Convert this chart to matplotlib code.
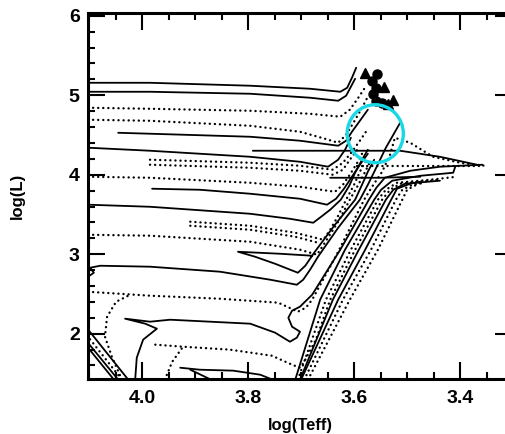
import matplotlib
matplotlib.use("Agg")
import matplotlib.pyplot as plt
from matplotlib.patches import Ellipse
from matplotlib.ticker import MultipleLocator

# ---------------------------------------------------------------------------
# evolutionary tracks (log Teff, log L)
# ---------------------------------------------------------------------------

s1_teff = [4.102, 3.985, 3.796, 3.683, 3.626, 3.613, 3.604, 3.596]
s1_logl = [5.157, 5.157, 5.120, 5.082, 5.044, 5.094, 5.220, 5.346]

s2_teff = [4.102, 3.985, 3.796, 3.683, 3.630, 3.615, 3.606, 3.598]
s2_logl = [5.044, 5.044, 5.019, 4.969, 4.931, 4.994, 5.107, 5.208]

d1_teff = [4.102, 3.985, 3.796, 3.683, 3.626, 3.608, 3.592, 3.577]
d1_logl = [4.843, 4.830, 4.805, 4.767, 4.730, 4.818, 4.969, 5.120]

d2_teff = [4.102, 3.985, 3.796, 3.702, 3.655, 3.630, 3.615, 3.600, 3.585, 3.575]
d2_logl = [4.692, 4.679, 4.616, 4.541, 4.453, 4.402, 4.503, 4.667, 4.843, 4.969]

s3_teff = [4.045, 3.985, 3.796, 3.702, 3.630, 3.615, 3.604, 3.589, 3.574]
s3_logl = [4.528, 4.516, 4.478, 4.428, 4.365, 4.428, 4.541, 4.679, 4.818]

s4_teff = [4.102, 3.985, 3.796, 3.702, 3.649, 3.630, 3.617, 3.606]
s4_logl = [4.340, 4.302, 4.226, 4.163, 4.101, 4.189, 4.314, 4.465]

d3a_teff = [3.985, 3.796, 3.702, 3.640, 3.621, 3.604, 3.589, 3.575]
d3a_logl = [4.189, 4.151, 4.113, 4.063, 4.151, 4.289, 4.428, 4.566]

d3b_teff = [3.985, 3.796, 3.702, 3.640, 3.621, 3.608, 3.594]
d3b_logl = [4.126, 4.088, 4.050, 4.000, 4.063, 4.189, 4.314]

d4_teff = [4.102, 3.985, 3.796, 3.702, 3.636, 3.621, 3.608, 3.594, 3.583]
d4_logl = [3.975, 3.962, 3.899, 3.849, 3.786, 3.874, 4.000, 4.151, 4.289]

s5_teff = [3.981, 3.891, 3.796, 3.702, 3.651, 3.634, 3.619, 3.604, 3.589, 3.574]
s5_logl = [3.824, 3.811, 3.761, 3.698, 3.623, 3.698, 3.824, 3.975, 4.126, 4.264]

s6_teff = [4.102, 3.985, 3.796, 3.721, 3.677, 3.662, 3.645, 3.625, 3.609, 3.598, 3.585, 3.574]
s6_logl = [3.623, 3.597, 3.509, 3.446, 3.396, 3.472, 3.560, 3.686, 3.862, 4.025, 4.189, 4.314]

d5a_teff = [3.909, 3.796, 3.711, 3.658, 3.645, 3.630, 3.615, 3.600, 3.589, 3.577]
d5a_logl = [3.409, 3.358, 3.270, 3.182, 3.308, 3.484, 3.686, 3.874, 4.038, 4.189]

d5b_teff = [3.909, 3.796, 3.711, 3.668]
d5b_logl = [3.358, 3.308, 3.220, 3.145]

d6_teff = [4.102, 3.985, 3.796, 3.702, 3.670, 3.655, 3.630, 3.608, 3.592, 3.579, 3.568]
d6_logl = [3.245, 3.233, 3.157, 3.057, 2.994, 3.145, 3.409, 3.686, 3.874, 4.038, 4.189]

s7_teff = [3.679, 3.740, 3.819, 3.787, 3.749, 3.706, 3.692, 3.674, 3.636, 3.598, 3.585, 3.574, 3.562]
s7_logl = [2.981, 3.006, 3.031, 2.969, 2.880, 2.767, 2.855, 3.031, 3.371, 3.686, 3.874, 4.038, 4.189]

s8_teff = [4.102, 4.091, 4.098, 4.079, 3.985, 3.853, 3.758, 3.708, 3.696, 3.683, 3.668,
           3.630, 3.589, 3.574, 3.560, 3.540, 3.513]
s8_logl = [2.717, 2.767, 2.830, 2.855, 2.843, 2.780, 2.679, 2.616, 2.679, 2.805, 2.969,
           3.333, 3.686, 3.874, 4.063, 4.340, 4.654]

d7pre_teff = [4.038, 4.057, 4.070, 4.066, 4.049, 4.026]
d7pre_logl = [1.421, 1.711, 1.962, 2.214, 2.402, 2.478]

d7_teff = [4.102, 3.985, 3.853, 3.743, 3.706, 3.691, 3.679, 3.630, 3.581, 3.566, 3.547,
           3.532, 3.523, 3.494, 3.451, 3.400, 3.353]
d7_logl = [2.528, 2.478, 2.440, 2.390, 2.277, 2.327, 2.428, 3.031, 3.686, 3.849, 4.038,
           4.252, 4.465, 4.402, 4.226, 4.151, 4.113]

s9_teff = [4.013, 4.010, 3.998, 3.972, 3.994, 4.032, 3.985, 3.947, 3.796, 3.749, 3.721,
           3.708, 3.702, 3.717, 3.724, 3.717, 3.702, 3.679, 3.626, 3.572, 3.558, 3.542,
           3.494, 3.438, 3.358]
s9_logl = [1.421, 1.698, 1.925, 2.063, 2.126, 2.189, 2.151, 2.176, 2.126, 2.013, 1.899,
           1.950, 2.025, 2.088, 2.201, 2.289, 2.340, 2.491, 3.057, 3.686, 3.836, 3.962,
           4.050, 4.101, 4.126]

d8pre_teff = [3.957, 3.943, 3.924]
d8pre_logl = [1.421, 1.648, 1.824]

d8_teff = [3.975, 3.924, 3.834, 3.755, 3.717, 3.702, 3.694, 3.672, 3.645, 3.598, 3.547,
           3.532, 3.513, 3.438]
d8_logl = [1.862, 1.837, 1.799, 1.723, 1.610, 1.572, 1.648, 1.925, 2.428, 3.057, 3.686,
           3.811, 3.887, 3.937]

s10_teff = [3.928, 3.891, 3.828, 3.777, 3.749]
s10_logl = [1.572, 1.547, 1.535, 1.484, 1.409]
s10b_teff = [3.909, 3.866]
s10b_logl = [1.547, 1.409]

# pre-main-sequence lines at the hot, faint corner
bl1_teff, bl1_logl = [4.110, 4.026], [2.120, 1.421]
bl2_teff, bl2_logl = [4.110, 4.038], [2.030, 1.421]
bl3_teff, bl3_logl = [4.110, 4.045], [1.950, 1.421]
bl4_teff, bl4_logl = [4.110, 4.053], [1.890, 1.421]

# giant branches of the lowest masses
b1_teff = [3.711, 3.664, 3.617, 3.562, 3.549, 3.528, 3.475, 3.413, 3.409]
b1_logl = [1.421, 2.428, 3.057, 3.686, 3.811, 3.925, 3.987, 4.025, 4.101]
b2_teff = [3.706, 3.653, 3.606, 3.555, 3.540, 3.519, 3.457, 3.406]
b2_logl = [1.421, 2.428, 3.057, 3.686, 3.811, 3.899, 3.937, 3.975]
b3_teff = [3.702, 3.640, 3.591, 3.540, 3.526, 3.504, 3.438]
b3_logl = [1.421, 2.428, 3.057, 3.686, 3.811, 3.887, 3.925]
b4_teff = [3.700, 3.630, 3.579, 3.530, 3.519, 3.494, 3.475]
b4_logl = [1.421, 2.428, 3.057, 3.686, 3.824, 3.887, 3.912]
b5_teff = [3.694, 3.621, 3.568, 3.521, 3.509, 3.490, 3.466]
b5_logl = [1.421, 2.428, 3.057, 3.686, 3.811, 3.874, 3.899]
b6_teff = [3.687, 3.608, 3.555, 3.509, 3.500, 3.475]
b6_logl = [1.421, 2.428, 3.057, 3.686, 3.811, 3.899]

# red extensions near log L ~ 4
e1_teff, e1_logl = [3.791, 3.645, 3.513, 3.438, 3.368], [4.302, 4.302, 4.302, 4.226, 4.126]
e3_teff, e3_logl = [3.594, 3.475, 3.357], [4.113, 4.113, 4.113]
e4_teff, e4_logl = [3.645, 3.551, 3.475], [3.962, 3.962, 3.975]

# observed stars
tri_teff = [3.579, 3.543, 3.526, 3.536]
tri_logl = [5.283, 5.107, 4.943, 4.893]
dot_teff = [3.557, 3.566, 3.558, 3.564, 3.558, 3.547]
dot_logl = [5.270, 5.182, 5.094, 5.019, 4.931, 4.906]

# highlighted region
circle_teff, circle_logl = 3.560, 4.516
circle_dteff, circle_dlogl = 0.106, 0.73

solid_tracks = [
    (s1_teff, s1_logl), (s2_teff, s2_logl), (s3_teff, s3_logl), (s4_teff, s4_logl),
    (s5_teff, s5_logl), (s6_teff, s6_logl), (s7_teff, s7_logl), (s8_teff, s8_logl),
    (s9_teff, s9_logl), (s10_teff, s10_logl), (s10b_teff, s10b_logl),
    (bl1_teff, bl1_logl), (bl3_teff, bl3_logl), (bl4_teff, bl4_logl),
    (b1_teff, b1_logl), (b3_teff, b3_logl), (b4_teff, b4_logl),
    (e1_teff, e1_logl), (e4_teff, e4_logl),
]
dotted_tracks = [
    (d1_teff, d1_logl), (d2_teff, d2_logl), (d3a_teff, d3a_logl), (d3b_teff, d3b_logl),
    (d4_teff, d4_logl), (d5a_teff, d5a_logl), (d5b_teff, d5b_logl), (d6_teff, d6_logl),
    (d7pre_teff, d7pre_logl), (d7_teff, d7_logl), (d8pre_teff, d8pre_logl),
    (d8_teff, d8_logl), (bl2_teff, bl2_logl),
    (b2_teff, b2_logl), (b5_teff, b5_logl), (b6_teff, b6_logl), (e3_teff, e3_logl),
]

# ---------------------------------------------------------------------------
# figure
# ---------------------------------------------------------------------------

plt.rcParams["font.family"] = ["Liberation Sans", "DejaVu Sans"]
plt.rcParams["font.weight"] = "bold"

fig = plt.figure(figsize=(5.06, 4.34), dpi=100)
ax = fig.add_axes([88 / 506, 1 - 379 / 434, 424 / 506, 366 / 434])

for teff, logl in solid_tracks:
    ax.plot(teff, logl, color="black", lw=1.3, solid_joinstyle="round", solid_capstyle="round")
for teff, logl in dotted_tracks:
    ax.plot(teff, logl, color="black", lw=1.7, linestyle=(0, (0.05, 2.1)),
            dash_capstyle="round")

ax.plot(tri_teff, tri_logl, "^", color="black", ms=6.5, mec="black")
ax.plot(dot_teff, dot_logl, "o", color="black", ms=6.5, mec="black")

ax.add_patch(Ellipse((circle_teff, circle_logl), circle_dteff, circle_dlogl,
                     fill=False, edgecolor="#18d8e6", lw=2.4, zorder=5))

ax.set_xlim(4.102, 3.302)
ax.set_ylim(1.43, 6.035)

ax.xaxis.set_major_locator(MultipleLocator(0.2))
ax.xaxis.set_minor_locator(MultipleLocator(0.05))
ax.yaxis.set_major_locator(MultipleLocator(1))
ax.yaxis.set_minor_locator(MultipleLocator(0.2))

ax.tick_params(which="both", direction="in", top=True, right=True, width=1.5)
ax.tick_params(which="major", length=12, labelsize=14)
ax.tick_params(which="minor", length=5)
ax.tick_params(axis="x", pad=8)
ax.tick_params(axis="y", pad=6)

for sp in ax.spines.values():
    sp.set_linewidth(2.2)

ax.set_xlabel("log(Teff)", fontsize=12, fontweight="bold")
ax.set_ylabel("log(L)", fontsize=12, fontweight="bold")
ax.xaxis.set_label_coords(0.5, -0.107)
ax.yaxis.set_label_coords(-0.149, 0.5)

fig.savefig("out.png", dpi=100)
